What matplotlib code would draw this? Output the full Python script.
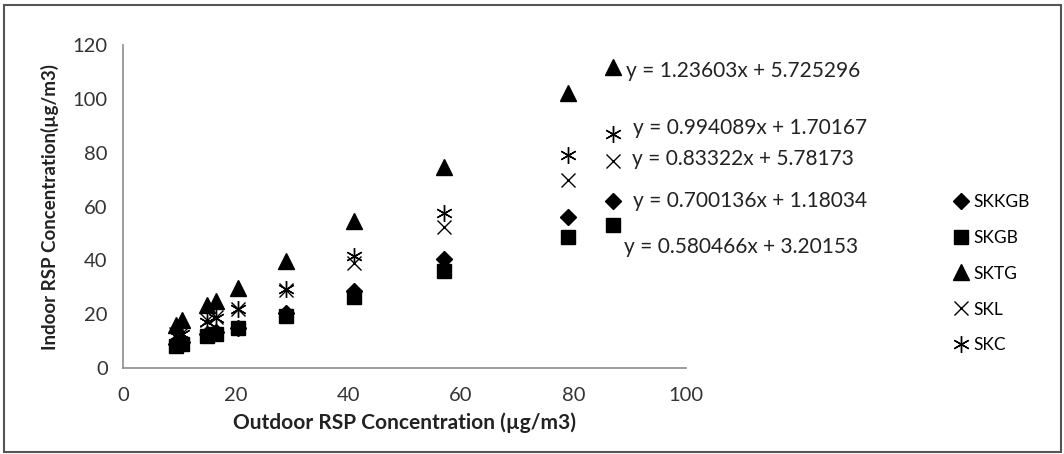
import matplotlib.pyplot as plt
import matplotlib.patches as patches

plt.rcParams['font.family'] = ['Lato', 'DejaVu Sans']

# outdoor concentration (x) and indoor concentration per site
outdoor = [9.5, 10.5, 15, 16.5, 20.5, 29, 41, 57, 79, 87]
skkgb = [9, 9.5, 12.5, 13.5, 15, 20.5, 28.5, 40.5, 56, 62]
skgb = [8, 9, 12, 12.5, 15, 19.5, 26.5, 36, 48.5, 53]
sktg = [16, 17.8, 23.5, 25, 29.7, 39.6, 54.5, 74.7, 102, 112]
skl = [12.5, 13, 18, 19, 22, 29, 39, 52.5, 70, 77]
skc = [12, 12.5, 17, 18.5, 22, 29.5, 41.5, 57.5, 79, 87]

series_names = ['SKKGB', 'SKGB', 'SKTG', 'SKL', 'SKC']
equations = ['y = 1.23603x + 5.725296', 'y = 0.994089x + 1.70167',
             'y = 0.83322x + 5.78173', 'y = 0.700136x + 1.18034',
             'y = 0.580466x + 3.20153']
eq_x = [89.4, 90.6, 90.4, 90.6, 89.0]
eq_y = [110.4, 89.2, 77.7, 62.2, 44.8]

fig = plt.figure(figsize=(10.64, 4.54), dpi=100)
ax = fig.add_axes([123 / 1064, 86 / 454, 563 / 1064, 323 / 454])

ax.plot(outdoor, skkgb, 'D', color='black', ms=8.5, label=series_names[0], clip_on=False)
ax.plot(outdoor, skgb, 's', color='black', ms=10, label=series_names[1], clip_on=False)
ax.plot(outdoor, sktg, '^', color='black', ms=11, label=series_names[2], clip_on=False)
ax.plot(outdoor, skl, 'x', color='black', ms=10, mew=1.0, label=series_names[3], clip_on=False)
ax.plot(outdoor, skc, marker=(6, 2, 0), ls='none', color='black', ms=12, mew=1.0,
        label=series_names[4], clip_on=False)

for txt, x, y in zip(equations, eq_x, eq_y):
    ax.text(x, y, txt, fontsize=15, ha='left', va='center', color='#222222', clip_on=False)

ax.set_xlim(0, 100)
ax.set_ylim(0, 120)
ax.set_xticks(range(0, 101, 20))
ax.set_yticks(range(0, 121, 20))
ax.tick_params(length=0, labelsize=14.5, colors='#333333')
ax.tick_params(axis='x', pad=14)
ax.tick_params(axis='y', pad=11)
for s in ['top', 'right']:
    ax.spines[s].set_visible(False)
for s in ['left', 'bottom']:
    ax.spines[s].set_color('#8c8c8c')
    ax.spines[s].set_linewidth(1.2)

ax.set_xlabel('Outdoor RSP Concentration (µg/m3)', fontsize=15, fontweight='bold',
              labelpad=6, color='#222222')
ax.set_ylabel('Indoor RSP Concentration(µg/m3)', fontsize=13.5, fontweight='bold',
              labelpad=10, color='#222222')

fig.legend(loc='upper left', bbox_to_anchor=(935 / 1064, 1 - 178 / 454), frameon=False,
           fontsize=12.5, labelspacing=1.15, handletextpad=0.1, handlelength=1.2)

fig.patches.append(patches.Rectangle((4 / 1064, 2 / 454), 1057 / 1064, 447 / 454,
                                     transform=fig.transFigure, fill=False,
                                     edgecolor='#555555', lw=1.5))

fig.savefig('out.png', dpi=100)
